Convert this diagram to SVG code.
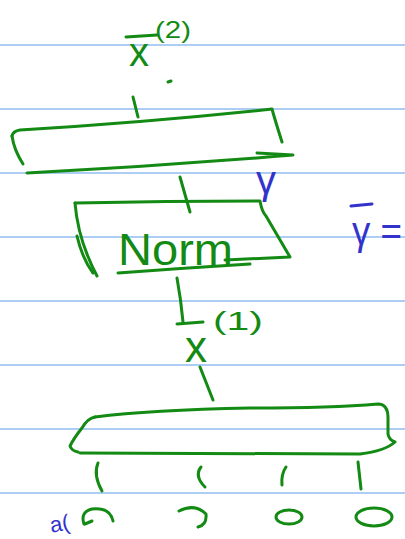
<svg xmlns="http://www.w3.org/2000/svg" width="405" height="539" viewBox="0 0 405 539">
<style>
.rule{stroke:#5b9bea;stroke-width:1.2;fill:none}
.g{stroke:#138a13;stroke-width:3;fill:none;stroke-linecap:round;stroke-linejoin:round}
.gt{fill:#138a13;font-family:"Liberation Sans",Arial,sans-serif}
.b{stroke:#3333cc;stroke-width:3;fill:none;stroke-linecap:round}
.bt{fill:#3333cc;font-family:"Liberation Sans",Arial,sans-serif}
</style>
<rect width="405" height="539" fill="#ffffff"/>
<g id="rules">
<line class="rule" x1="0" y1="45" x2="405" y2="45"/>
<line class="rule" x1="0" y1="109" x2="405" y2="109"/>
<line class="rule" x1="0" y1="173" x2="405" y2="173"/>
<line class="rule" x1="0" y1="237" x2="405" y2="237"/>
<line class="rule" x1="0" y1="301" x2="405" y2="301"/>
<line class="rule" x1="0" y1="365" x2="405" y2="365"/>
<line class="rule" x1="0" y1="429" x2="405" y2="429"/>
<line class="rule" x1="0" y1="493" x2="405" y2="493"/>
</g>
<g id="connectors">
<path class="g" d="M133,97 L138,117"/>
<path class="g" d="M168,82 L171,81" stroke-width="1.5"/>
<path class="g" d="M180,177 L190,212"/>
<path class="g" d="M177,278 Q181,300 183,322"/>
<path class="g" d="M200,367 L213,400"/>
<path class="g" d="M98,463 Q93,475 102,491"/>
<path class="g" d="M201,467 Q194,476 205,487"/>
<path class="g" d="M286,467 Q281,474 282,485"/>
<path class="g" d="M358,462 L361,489"/>
</g>
<g id="x2">
<path class="g" d="M126,37 L157,35" stroke-width="2"/>
<text class="gt" x="129" y="66" font-size="40">x</text>
<text class="gt" x="155" y="38" font-size="24" textLength="36" lengthAdjust="spacingAndGlyphs">(2)</text>
</g>
<g id="top-layer">
<path class="g" d="M12,136 Q14,150 23,164"/>
<path class="g" d="M12,136 Q13,131 20,130 Q150,122 272,109 Q275,120 282,142"/>
<path class="g" d="M27,173 Q160,166 293,155 L257,153"/>
</g>
<g id="norm">
<path class="g" d="M75,203 Q78,240 97,276"/>
<path class="g" d="M77,236 Q82,258 93,273" stroke-width="2"/>
<path class="g" d="M75,203 Q170,201 260,201 Q262,212 266,216 L290,257 L225,260"/>
<path class="g" d="M118,273 Q185,268 250,264"/>
<text class="gt" x="118" y="265" font-size="44" textLength="115" lengthAdjust="spacingAndGlyphs">Norm</text>
</g>
<g id="gamma">
<text class="bt" x="256" y="194" font-size="40">γ</text>
</g>
<g id="gamma-bar">
<path class="b" d="M351,206 L372,204"/>
<text class="bt" x="352" y="245" font-size="40" textLength="50" lengthAdjust="spacingAndGlyphs">γ =</text>
</g>
<g id="x1">
<path class="g" d="M177,324 L203,322" stroke-width="2"/>
<text class="gt" x="185" y="362" font-size="44">x</text>
<text class="gt" x="213" y="330" font-size="26" textLength="50" lengthAdjust="spacingAndGlyphs">(1)</text>
</g>
<g id="bottom-layer">
<path class="g" d="M95,417 Q150,410 250,408 Q330,408 378,404 Q388,404 388,418 L388,434 Q389,440 395,442 Q385,451 360,454 L80,453"/>
<path class="g" d="M95,417 Q88,418 82,428 Q74,438 70,446 Q72,451 78,452"/>
</g>
<g id="inputs">
<path class="g" d="M84,524 Q80,512 92,509 Q110,507 113,521"/>
<path class="g" d="M85,524 L92,521"/>
<path class="g" d="M179,511 Q195,503 206,514 Q207,525 198,527"/>
<ellipse class="g" cx="289" cy="517" rx="13" ry="7"/>
<ellipse class="g" cx="374" cy="517" rx="18" ry="9"/>
</g>
<g id="a-label">
<text class="bt" x="50" y="531" font-size="22" transform="rotate(-10 60 525)">a(</text>
</g>
</svg>
